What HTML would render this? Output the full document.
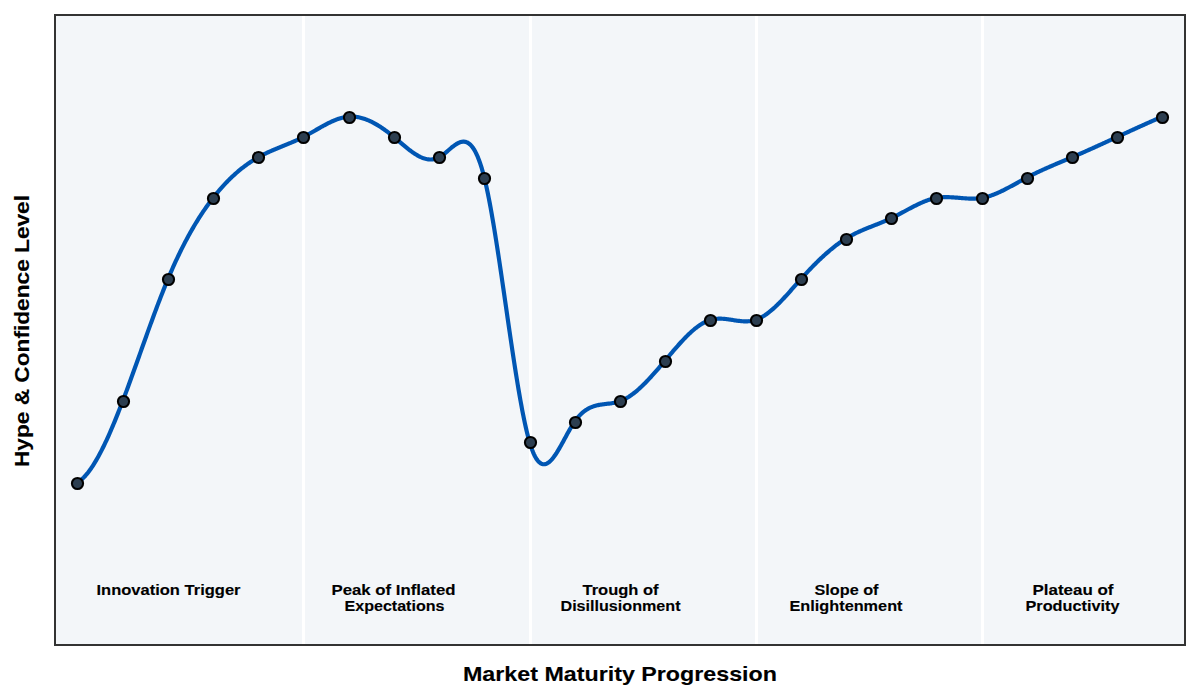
<!DOCTYPE html>
<html><head><meta charset="utf-8"><title>Hype Cycle</title><style>
html,body{margin:0;padding:0;background:#fff;width:1200px;height:700px;overflow:hidden;}
svg{display:block;}
text{font-family:"Liberation Sans", sans-serif;font-weight:bold;fill:#000;stroke:#000;stroke-width:0.12px;}
</style></head><body>
<svg width="1200" height="700" viewBox="0 0 1200 700">
<rect x="0" y="0" width="1200" height="700" fill="#ffffff"/>
<rect x="55" y="15" width="1130" height="630" fill="#f3f6f9"/>
<g fill="#ffffff"><rect x="302" y="16" width="3" height="628"/><rect x="529" y="16" width="3" height="628"/><rect x="755" y="16" width="3" height="628"/><rect x="981" y="16" width="3" height="628"/></g>
<path d="M77.44,482.54 L78.34,481.98 L79.24,481.35 L80.15,480.67 L81.05,479.94 L81.96,479.15 L82.86,478.31 L83.77,477.42 L84.67,476.47 L85.57,475.48 L86.48,474.43 L87.38,473.34 L88.29,472.20 L89.19,471.01 L90.09,469.77 L91.00,468.49 L91.90,467.16 L92.81,465.79 L93.71,464.38 L94.62,462.92 L95.52,461.43 L96.42,459.89 L97.33,458.31 L98.23,456.69 L99.14,455.04 L100.04,453.35 L100.94,451.62 L101.85,449.85 L102.75,448.05 L103.66,446.22 L104.56,444.35 L105.46,442.45 L106.37,440.52 L107.27,438.55 L108.18,436.56 L109.08,434.54 L109.99,432.48 L110.89,430.41 L111.79,428.30 L112.70,426.17 L113.60,424.01 L114.51,421.83 L115.41,419.62 L116.31,417.40 L117.22,415.15 L118.12,412.88 L119.03,410.58 L119.93,408.27 L120.84,405.94 L121.74,403.60 L122.64,401.23 L123.55,398.85 L124.45,396.45 L125.36,394.04 L126.26,391.62 L127.16,389.18 L128.07,386.73 L128.97,384.27 L129.88,381.80 L130.78,379.32 L131.68,376.83 L132.59,374.33 L133.49,371.82 L134.40,369.31 L135.30,366.79 L136.21,364.27 L137.11,361.74 L138.01,359.21 L138.92,356.68 L139.82,354.14 L140.73,351.61 L141.63,349.07 L142.53,346.54 L143.44,344.01 L144.34,341.48 L145.25,338.95 L146.15,336.43 L147.05,333.91 L147.96,331.40 L148.86,328.90 L149.77,326.40 L150.67,323.91 L151.58,321.43 L152.48,318.96 L153.38,316.50 L154.29,314.05 L155.19,311.62 L156.10,309.19 L157.00,306.78 L157.90,304.39 L158.81,302.01 L159.71,299.65 L160.62,297.31 L161.52,294.98 L162.43,292.67 L163.33,290.38 L164.23,288.11 L165.14,285.87 L166.04,283.64 L166.95,281.44 L167.85,279.26 L168.75,277.11 L169.66,274.98 L170.56,272.88 L171.47,270.80 L172.37,268.74 L173.27,266.70 L174.18,264.69 L175.08,262.71 L175.99,260.74 L176.89,258.80 L177.80,256.89 L178.70,254.99 L179.60,253.12 L180.51,251.27 L181.41,249.44 L182.32,247.63 L183.22,245.85 L184.12,244.08 L185.03,242.34 L185.93,240.62 L186.84,238.92 L187.74,237.24 L188.65,235.58 L189.55,233.95 L190.45,232.33 L191.36,230.73 L192.26,229.15 L193.17,227.59 L194.07,226.06 L194.97,224.54 L195.88,223.04 L196.78,221.56 L197.69,220.09 L198.59,218.65 L199.49,217.23 L200.40,215.82 L201.30,214.43 L202.21,213.06 L203.11,211.71 L204.02,210.37 L204.92,209.06 L205.82,207.76 L206.73,206.47 L207.63,205.21 L208.54,203.96 L209.44,202.72 L210.34,201.51 L211.25,200.31 L212.15,199.12 L213.06,197.95 L213.96,196.80 L214.86,195.66 L215.77,194.54 L216.67,193.43 L217.58,192.34 L218.48,191.26 L219.39,190.20 L220.29,189.15 L221.19,188.12 L222.10,187.11 L223.00,186.10 L223.91,185.12 L224.81,184.14 L225.71,183.18 L226.62,182.24 L227.52,181.31 L228.43,180.39 L229.33,179.49 L230.24,178.60 L231.14,177.72 L232.04,176.86 L232.95,176.01 L233.85,175.17 L234.76,174.35 L235.66,173.54 L236.56,172.75 L237.47,171.96 L238.37,171.19 L239.28,170.44 L240.18,169.69 L241.08,168.96 L241.99,168.24 L242.89,167.53 L243.80,166.84 L244.70,166.16 L245.61,165.48 L246.51,164.83 L247.41,164.18 L248.32,163.54 L249.22,162.92 L250.13,162.31 L251.03,161.71 L251.93,161.12 L252.84,160.54 L253.74,159.97 L254.65,159.41 L255.55,158.87 L256.46,158.33 L257.36,157.81 L258.26,157.30 L259.17,156.79 L260.07,156.30 L260.98,155.82 L261.88,155.34 L262.78,154.88 L263.69,154.42 L264.59,153.97 L265.50,153.53 L266.40,153.10 L267.30,152.67 L268.21,152.25 L269.11,151.84 L270.02,151.43 L270.92,151.03 L271.83,150.63 L272.73,150.24 L273.63,149.85 L274.54,149.47 L275.44,149.09 L276.35,148.71 L277.25,148.34 L278.15,147.97 L279.06,147.60 L279.96,147.23 L280.87,146.86 L281.77,146.50 L282.67,146.13 L283.58,145.76 L284.48,145.40 L285.39,145.03 L286.29,144.66 L287.20,144.30 L288.10,143.92 L289.00,143.55 L289.91,143.18 L290.81,142.80 L291.72,142.42 L292.62,142.03 L293.52,141.64 L294.43,141.25 L295.33,140.85 L296.24,140.44 L297.14,140.03 L298.05,139.61 L298.95,139.19 L299.85,138.76 L300.76,138.33 L301.66,137.88 L302.57,137.43 L303.47,136.97 L304.37,136.50 L305.28,136.02 L306.18,135.54 L307.09,135.04 L307.99,134.55 L308.89,134.04 L309.80,133.54 L310.70,133.02 L311.61,132.51 L312.51,131.99 L313.42,131.47 L314.32,130.95 L315.22,130.43 L316.13,129.90 L317.03,129.38 L317.94,128.86 L318.84,128.34 L319.74,127.83 L320.65,127.31 L321.55,126.80 L322.46,126.30 L323.36,125.80 L324.27,125.31 L325.17,124.82 L326.07,124.34 L326.98,123.87 L327.88,123.40 L328.79,122.95 L329.69,122.51 L330.59,122.07 L331.50,121.65 L332.40,121.24 L333.31,120.84 L334.21,120.46 L335.11,120.09 L336.02,119.73 L336.92,119.39 L337.83,119.06 L338.73,118.75 L339.64,118.46 L340.54,118.19 L341.44,117.93 L342.35,117.70 L343.25,117.48 L344.16,117.29 L345.06,117.11 L345.96,116.96 L346.87,116.83 L347.77,116.72 L348.68,116.64 L349.58,116.58 L350.48,116.55 L351.39,116.54 L352.29,116.55 L353.20,116.59 L354.10,116.65 L355.01,116.73 L355.91,116.83 L356.81,116.96 L357.72,117.10 L358.62,117.27 L359.53,117.46 L360.43,117.67 L361.33,117.90 L362.24,118.15 L363.14,118.42 L364.05,118.71 L364.95,119.02 L365.86,119.35 L366.76,119.70 L367.66,120.06 L368.57,120.44 L369.47,120.84 L370.38,121.25 L371.28,121.69 L372.18,122.14 L373.09,122.60 L373.99,123.08 L374.90,123.58 L375.80,124.09 L376.70,124.61 L377.61,125.15 L378.51,125.71 L379.42,126.27 L380.32,126.86 L381.23,127.45 L382.13,128.06 L383.03,128.68 L383.94,129.31 L384.84,129.95 L385.75,130.61 L386.65,131.27 L387.55,131.95 L388.46,132.64 L389.36,133.34 L390.27,134.04 L391.17,134.76 L392.08,135.49 L392.98,136.22 L393.88,136.97 L394.79,137.72 L395.69,138.48 L396.60,139.24 L397.50,140.01 L398.40,140.78 L399.31,141.56 L400.21,142.33 L401.12,143.10 L402.02,143.87 L402.92,144.64 L403.83,145.40 L404.73,146.16 L405.64,146.91 L406.54,147.65 L407.45,148.38 L408.35,149.09 L409.25,149.80 L410.16,150.49 L411.06,151.16 L411.97,151.82 L412.87,152.46 L413.77,153.09 L414.68,153.69 L415.58,154.26 L416.49,154.82 L417.39,155.35 L418.29,155.86 L419.20,156.33 L420.10,156.78 L421.01,157.20 L421.91,157.59 L422.82,157.95 L423.72,158.27 L424.62,158.55 L425.53,158.80 L426.43,159.02 L427.34,159.19 L428.24,159.32 L429.14,159.42 L430.05,159.46 L430.95,159.47 L431.86,159.43 L432.76,159.34 L433.67,159.20 L434.57,159.02 L435.47,158.78 L436.38,158.49 L437.28,158.15 L438.19,157.75 L439.09,157.30 L439.99,156.79 L440.90,156.22 L441.80,155.62 L442.71,154.97 L443.61,154.28 L444.51,153.57 L445.42,152.83 L446.32,152.08 L447.23,151.31 L448.13,150.53 L449.04,149.76 L449.94,148.98 L450.84,148.22 L451.75,147.47 L452.65,146.74 L453.56,146.04 L454.46,145.37 L455.36,144.74 L456.27,144.15 L457.17,143.61 L458.08,143.12 L458.98,142.69 L459.89,142.33 L460.79,142.04 L461.69,141.82 L462.60,141.69 L463.50,141.65 L464.41,141.69 L465.31,141.84 L466.21,142.09 L467.12,142.45 L468.02,142.93 L468.93,143.53 L469.83,144.25 L470.73,145.11 L471.64,146.10 L472.54,147.24 L473.45,148.53 L474.35,149.97 L475.26,151.57 L476.16,153.34 L477.06,155.28 L477.97,157.39 L478.87,159.69 L479.78,162.18 L480.68,164.86 L481.58,167.74 L482.49,170.82 L483.39,174.11 L484.30,177.62 L485.20,181.35 L486.10,185.29 L487.01,189.44 L487.91,193.78 L488.82,198.30 L489.72,202.99 L490.63,207.86 L491.53,212.88 L492.43,218.04 L493.34,223.35 L494.24,228.78 L495.15,234.33 L496.05,239.99 L496.95,245.76 L497.86,251.61 L498.76,257.55 L499.67,263.56 L500.57,269.63 L501.48,275.76 L502.38,281.93 L503.28,288.13 L504.19,294.37 L505.09,300.62 L506.00,306.88 L506.90,313.14 L507.80,319.38 L508.71,325.61 L509.61,331.80 L510.52,337.96 L511.42,344.07 L512.32,350.13 L513.23,356.11 L514.13,362.02 L515.04,367.85 L515.94,373.58 L516.85,379.21 L517.75,384.72 L518.65,390.11 L519.56,395.37 L520.46,400.49 L521.37,405.46 L522.27,410.27 L523.17,414.91 L524.08,419.37 L524.98,423.65 L525.89,427.73 L526.79,431.60 L527.70,435.26 L528.60,438.69 L529.50,441.89 L530.41,444.85 L531.31,447.57 L532.22,450.06 L533.12,452.32 L534.02,454.37 L534.93,456.21 L535.83,457.84 L536.74,459.27 L537.64,460.51 L538.54,461.56 L539.45,462.43 L540.35,463.12 L541.26,463.65 L542.16,464.01 L543.07,464.22 L543.97,464.28 L544.87,464.19 L545.78,463.97 L546.68,463.61 L547.59,463.14 L548.49,462.54 L549.39,461.83 L550.30,461.01 L551.20,460.10 L552.11,459.09 L553.01,457.99 L553.91,456.81 L554.82,455.55 L555.72,454.23 L556.63,452.85 L557.53,451.40 L558.44,449.91 L559.34,448.38 L560.24,446.80 L561.15,445.20 L562.05,443.57 L562.96,441.92 L563.86,440.25 L564.76,438.58 L565.67,436.91 L566.57,435.25 L567.48,433.60 L568.38,431.96 L569.29,430.35 L570.19,428.77 L571.09,427.23 L572.00,425.73 L572.90,424.28 L573.81,422.89 L574.71,421.56 L575.61,420.29 L576.52,419.09 L577.42,417.96 L578.33,416.89 L579.23,415.87 L580.13,414.92 L581.04,414.02 L581.94,413.18 L582.85,412.39 L583.75,411.65 L584.66,410.95 L585.56,410.31 L586.46,409.71 L587.37,409.15 L588.27,408.63 L589.18,408.16 L590.08,407.72 L590.98,407.31 L591.89,406.94 L592.79,406.60 L593.70,406.28 L594.60,406.00 L595.51,405.74 L596.41,405.50 L597.31,405.29 L598.22,405.09 L599.12,404.92 L600.03,404.75 L600.93,404.61 L601.83,404.47 L602.74,404.34 L603.64,404.22 L604.55,404.11 L605.45,404.00 L606.35,403.90 L607.26,403.79 L608.16,403.68 L609.07,403.57 L609.97,403.45 L610.88,403.33 L611.78,403.19 L612.68,403.05 L613.59,402.89 L614.49,402.71 L615.40,402.52 L616.30,402.31 L617.20,402.08 L618.11,401.82 L619.01,401.54 L619.92,401.23 L620.82,400.89 L621.72,400.53 L622.63,400.14 L623.53,399.72 L624.44,399.27 L625.34,398.80 L626.25,398.30 L627.15,397.78 L628.05,397.23 L628.96,396.66 L629.86,396.06 L630.77,395.44 L631.67,394.80 L632.57,394.14 L633.48,393.46 L634.38,392.76 L635.29,392.03 L636.19,391.29 L637.10,390.53 L638.00,389.75 L638.90,388.95 L639.81,388.13 L640.71,387.30 L641.62,386.45 L642.52,385.59 L643.42,384.71 L644.33,383.82 L645.23,382.91 L646.14,381.99 L647.04,381.06 L647.94,380.11 L648.85,379.16 L649.75,378.19 L650.66,377.21 L651.56,376.22 L652.47,375.22 L653.37,374.22 L654.27,373.20 L655.18,372.18 L656.08,371.15 L656.99,370.11 L657.89,369.07 L658.79,368.02 L659.70,366.97 L660.60,365.91 L661.51,364.85 L662.41,363.78 L663.32,362.72 L664.22,361.65 L665.12,360.58 L666.03,359.50 L666.93,358.43 L667.84,357.36 L668.74,356.29 L669.64,355.22 L670.55,354.15 L671.45,353.09 L672.36,352.03 L673.26,350.97 L674.16,349.92 L675.07,348.87 L675.97,347.83 L676.88,346.80 L677.78,345.78 L678.69,344.76 L679.59,343.76 L680.49,342.76 L681.40,341.78 L682.30,340.80 L683.21,339.84 L684.11,338.89 L685.01,337.95 L685.92,337.03 L686.82,336.12 L687.73,335.23 L688.63,334.35 L689.53,333.50 L690.44,332.65 L691.34,331.83 L692.25,331.02 L693.15,330.24 L694.06,329.47 L694.96,328.73 L695.86,328.00 L696.77,327.30 L697.67,326.63 L698.58,325.97 L699.48,325.34 L700.38,324.74 L701.29,324.16 L702.19,323.60 L703.10,323.08 L704.00,322.58 L704.91,322.11 L705.81,321.67 L706.71,321.25 L707.62,320.87 L708.52,320.52 L709.43,320.21 L710.33,319.92 L711.23,319.67 L712.14,319.45 L713.04,319.25 L713.95,319.09 L714.85,318.96 L715.75,318.85 L716.66,318.77 L717.56,318.71 L718.47,318.68 L719.37,318.66 L720.28,318.67 L721.18,318.69 L722.08,318.73 L722.99,318.78 L723.89,318.86 L724.80,318.94 L725.70,319.03 L726.60,319.14 L727.51,319.25 L728.41,319.37 L729.32,319.50 L730.22,319.64 L731.13,319.77 L732.03,319.91 L732.93,320.05 L733.84,320.19 L734.74,320.33 L735.65,320.46 L736.55,320.59 L737.45,320.72 L738.36,320.84 L739.26,320.94 L740.17,321.04 L741.07,321.13 L741.97,321.21 L742.88,321.27 L743.78,321.31 L744.69,321.34 L745.59,321.35 L746.50,321.35 L747.40,321.32 L748.30,321.27 L749.21,321.20 L750.11,321.10 L751.02,320.97 L751.92,320.82 L752.82,320.64 L753.73,320.43 L754.63,320.19 L755.54,319.92 L756.44,319.61 L757.34,319.27 L758.25,318.90 L759.15,318.49 L760.06,318.06 L760.96,317.59 L761.87,317.10 L762.77,316.57 L763.67,316.02 L764.58,315.45 L765.48,314.84 L766.39,314.21 L767.29,313.56 L768.19,312.88 L769.10,312.18 L770.00,311.46 L770.91,310.71 L771.81,309.95 L772.72,309.16 L773.62,308.36 L774.52,307.53 L775.43,306.70 L776.33,305.84 L777.24,304.97 L778.14,304.08 L779.04,303.18 L779.95,302.26 L780.85,301.33 L781.76,300.39 L782.66,299.44 L783.56,298.48 L784.47,297.51 L785.37,296.53 L786.28,295.54 L787.18,294.54 L788.09,293.54 L788.99,292.53 L789.89,291.52 L790.80,290.50 L791.70,289.48 L792.61,288.46 L793.51,287.43 L794.41,286.41 L795.32,285.38 L796.22,284.35 L797.13,283.33 L798.03,282.31 L798.94,281.29 L799.84,280.27 L800.74,279.26 L801.65,278.26 L802.55,277.26 L803.46,276.26 L804.36,275.27 L805.26,274.29 L806.17,273.31 L807.07,272.34 L807.98,271.38 L808.88,270.42 L809.78,269.47 L810.69,268.53 L811.59,267.59 L812.50,266.66 L813.40,265.73 L814.31,264.82 L815.21,263.91 L816.11,263.01 L817.02,262.12 L817.92,261.23 L818.83,260.36 L819.73,259.49 L820.63,258.63 L821.54,257.78 L822.44,256.94 L823.35,256.10 L824.25,255.28 L825.15,254.46 L826.06,253.66 L826.96,252.86 L827.87,252.07 L828.77,251.30 L829.68,250.53 L830.58,249.77 L831.48,249.03 L832.39,248.29 L833.29,247.57 L834.20,246.85 L835.10,246.15 L836.00,245.46 L836.91,244.77 L837.81,244.10 L838.72,243.45 L839.62,242.80 L840.53,242.16 L841.43,241.54 L842.33,240.93 L843.24,240.33 L844.14,239.74 L845.05,239.17 L845.95,238.61 L846.85,238.06 L847.76,237.52 L848.66,237.00 L849.57,236.49 L850.47,235.98 L851.37,235.49 L852.28,235.01 L853.18,234.54 L854.09,234.08 L854.99,233.63 L855.90,233.19 L856.80,232.75 L857.70,232.33 L858.61,231.91 L859.51,231.50 L860.42,231.09 L861.32,230.69 L862.22,230.30 L863.13,229.91 L864.03,229.52 L864.94,229.15 L865.84,228.77 L866.75,228.40 L867.65,228.03 L868.55,227.67 L869.46,227.31 L870.36,226.95 L871.27,226.59 L872.17,226.23 L873.07,225.87 L873.98,225.52 L874.88,225.16 L875.79,224.81 L876.69,224.45 L877.59,224.09 L878.50,223.73 L879.40,223.37 L880.31,223.00 L881.21,222.63 L882.12,222.26 L883.02,221.89 L883.92,221.51 L884.83,221.13 L885.73,220.74 L886.64,220.34 L887.54,219.94 L888.44,219.54 L889.35,219.13 L890.25,218.71 L891.16,218.28 L892.06,217.84 L892.96,217.40 L893.87,216.95 L894.77,216.50 L895.68,216.04 L896.58,215.57 L897.49,215.10 L898.39,214.63 L899.29,214.15 L900.20,213.67 L901.10,213.18 L902.01,212.69 L902.91,212.21 L903.81,211.72 L904.72,211.23 L905.62,210.74 L906.53,210.25 L907.43,209.76 L908.34,209.28 L909.24,208.79 L910.14,208.31 L911.05,207.84 L911.95,207.36 L912.86,206.89 L913.76,206.43 L914.66,205.97 L915.57,205.52 L916.47,205.07 L917.38,204.63 L918.28,204.20 L919.18,203.77 L920.09,203.36 L920.99,202.95 L921.90,202.55 L922.80,202.17 L923.71,201.79 L924.61,201.43 L925.51,201.07 L926.42,200.73 L927.32,200.41 L928.23,200.09 L929.13,199.79 L930.03,199.50 L930.94,199.23 L931.84,198.98 L932.75,198.74 L933.65,198.52 L934.56,198.31 L935.46,198.12 L936.36,197.95 L937.27,197.80 L938.17,197.67 L939.08,197.55 L939.98,197.45 L940.88,197.37 L941.79,197.30 L942.69,197.24 L943.60,197.20 L944.50,197.17 L945.40,197.16 L946.31,197.15 L947.21,197.16 L948.12,197.17 L949.02,197.20 L949.93,197.23 L950.83,197.27 L951.73,197.32 L952.64,197.37 L953.54,197.43 L954.45,197.49 L955.35,197.56 L956.25,197.63 L957.16,197.70 L958.06,197.78 L958.97,197.86 L959.87,197.93 L960.77,198.01 L961.68,198.08 L962.58,198.16 L963.49,198.23 L964.39,198.29 L965.30,198.36 L966.20,198.42 L967.10,198.47 L968.01,198.51 L968.91,198.55 L969.82,198.59 L970.72,198.61 L971.62,198.62 L972.53,198.63 L973.43,198.62 L974.34,198.60 L975.24,198.57 L976.15,198.53 L977.05,198.47 L977.95,198.40 L978.86,198.31 L979.76,198.21 L980.67,198.09 L981.57,197.95 L982.47,197.80 L983.38,197.63 L984.28,197.44 L985.19,197.23 L986.09,197.01 L986.99,196.77 L987.90,196.52 L988.80,196.25 L989.71,195.97 L990.61,195.67 L991.52,195.36 L992.42,195.04 L993.32,194.70 L994.23,194.35 L995.13,193.99 L996.04,193.62 L996.94,193.24 L997.84,192.85 L998.75,192.45 L999.65,192.04 L1000.56,191.62 L1001.46,191.19 L1002.37,190.75 L1003.27,190.31 L1004.17,189.86 L1005.08,189.40 L1005.98,188.94 L1006.89,188.47 L1007.79,187.99 L1008.69,187.51 L1009.60,187.03 L1010.50,186.54 L1011.41,186.05 L1012.31,185.56 L1013.21,185.06 L1014.12,184.56 L1015.02,184.06 L1015.93,183.56 L1016.83,183.06 L1017.74,182.56 L1018.64,182.05 L1019.54,181.55 L1020.45,181.05 L1021.35,180.55 L1022.26,180.06 L1023.16,179.56 L1024.06,179.07 L1024.97,178.59 L1025.87,178.10 L1026.78,177.62 L1027.68,177.15 L1028.58,176.68 L1029.49,176.21 L1030.39,175.75 L1031.30,175.30 L1032.20,174.85 L1033.11,174.40 L1034.01,173.95 L1034.91,173.51 L1035.82,173.08 L1036.72,172.64 L1037.63,172.21 L1038.53,171.79 L1039.43,171.37 L1040.34,170.95 L1041.24,170.53 L1042.15,170.12 L1043.05,169.70 L1043.96,169.30 L1044.86,168.89 L1045.76,168.49 L1046.67,168.09 L1047.57,167.69 L1048.48,167.29 L1049.38,166.89 L1050.28,166.50 L1051.19,166.11 L1052.09,165.72 L1053.00,165.33 L1053.90,164.94 L1054.80,164.56 L1055.71,164.17 L1056.61,163.79 L1057.52,163.41 L1058.42,163.03 L1059.33,162.64 L1060.23,162.26 L1061.13,161.88 L1062.04,161.50 L1062.94,161.12 L1063.85,160.74 L1064.75,160.36 L1065.65,159.98 L1066.56,159.60 L1067.46,159.22 L1068.37,158.83 L1069.27,158.45 L1070.18,158.07 L1071.08,157.68 L1071.98,157.30 L1072.89,156.91 L1073.79,156.52 L1074.70,156.13 L1075.60,155.74 L1076.50,155.35 L1077.41,154.96 L1078.31,154.56 L1079.22,154.17 L1080.12,153.77 L1081.02,153.37 L1081.93,152.98 L1082.83,152.58 L1083.74,152.18 L1084.64,151.78 L1085.55,151.38 L1086.45,150.97 L1087.35,150.57 L1088.26,150.17 L1089.16,149.76 L1090.07,149.36 L1090.97,148.95 L1091.87,148.54 L1092.78,148.14 L1093.68,147.73 L1094.59,147.32 L1095.49,146.91 L1096.39,146.50 L1097.30,146.09 L1098.20,145.68 L1099.11,145.27 L1100.01,144.86 L1100.92,144.44 L1101.82,144.03 L1102.72,143.62 L1103.63,143.20 L1104.53,142.79 L1105.44,142.37 L1106.34,141.96 L1107.24,141.54 L1108.15,141.13 L1109.05,140.71 L1109.96,140.30 L1110.86,139.88 L1111.77,139.47 L1112.67,139.05 L1113.57,138.63 L1114.48,138.22 L1115.38,137.80 L1116.29,137.38 L1117.19,136.97 L1118.09,136.55 L1119.00,136.13 L1119.90,135.72 L1120.81,135.30 L1121.71,134.89 L1122.61,134.47 L1123.52,134.05 L1124.42,133.64 L1125.33,133.22 L1126.23,132.81 L1127.14,132.39 L1128.04,131.98 L1128.94,131.56 L1129.85,131.15 L1130.75,130.73 L1131.66,130.32 L1132.56,129.91 L1133.46,129.49 L1134.37,129.08 L1135.27,128.67 L1136.18,128.26 L1137.08,127.85 L1137.99,127.43 L1138.89,127.02 L1139.79,126.62 L1140.70,126.21 L1141.60,125.80 L1142.51,125.39 L1143.41,124.98 L1144.31,124.58 L1145.22,124.17 L1146.12,123.77 L1147.03,123.36 L1147.93,122.96 L1148.83,122.56 L1149.74,122.16 L1150.64,121.76 L1151.55,121.36 L1152.45,120.96 L1153.36,120.56 L1154.26,120.16 L1155.16,119.77 L1156.07,119.37 L1156.97,118.98 L1157.88,118.59 L1158.78,118.20 L1159.68,117.80 L1160.59,117.42 L1161.49,117.03 L1162.40,116.64" fill="none" stroke="#0056b3" stroke-width="4.167" stroke-linejoin="round" stroke-linecap="butt"/>
<g fill="#2c3e50" stroke="#000000" stroke-width="2.083"><circle cx="77.5" cy="483.5" r="5.556"/><circle cx="123.5" cy="401.5" r="5.556"/><circle cx="168.5" cy="279.5" r="5.556"/><circle cx="213.5" cy="198.5" r="5.556"/><circle cx="258.5" cy="157.5" r="5.556"/><circle cx="303.5" cy="137.5" r="5.556"/><circle cx="349.5" cy="117.5" r="5.556"/><circle cx="394.5" cy="137.5" r="5.556"/><circle cx="439.5" cy="157.5" r="5.556"/><circle cx="484.5" cy="178.5" r="5.556"/><circle cx="530.5" cy="442.5" r="5.556"/><circle cx="575.5" cy="422.5" r="5.556"/><circle cx="620.5" cy="401.5" r="5.556"/><circle cx="665.5" cy="361.5" r="5.556"/><circle cx="710.5" cy="320.5" r="5.556"/><circle cx="756.5" cy="320.5" r="5.556"/><circle cx="801.5" cy="279.5" r="5.556"/><circle cx="846.5" cy="239.5" r="5.556"/><circle cx="891.5" cy="218.5" r="5.556"/><circle cx="936.5" cy="198.5" r="5.556"/><circle cx="982.5" cy="198.5" r="5.556"/><circle cx="1027.5" cy="178.5" r="5.556"/><circle cx="1072.5" cy="157.5" r="5.556"/><circle cx="1117.5" cy="137.5" r="5.556"/><circle cx="1162.5" cy="117.5" r="5.556"/></g>
<g fill="#333333"><rect x="54" y="14" width="1132" height="2"/><rect x="54" y="644" width="1132" height="2"/><rect x="54" y="14" width="2" height="632"/><rect x="1184" y="14" width="2" height="632"/></g>
<g font-size="14.1" text-anchor="middle">
<text x="168.5" y="594.6" textLength="144" lengthAdjust="spacingAndGlyphs">Innovation Trigger</text>
<text x="393.5" y="594.6" textLength="124" lengthAdjust="spacingAndGlyphs">Peak of Inflated</text>
<text x="394.5" y="610.6" textLength="100" lengthAdjust="spacingAndGlyphs">Expectations</text>
<text x="620.5" y="594.6" textLength="76" lengthAdjust="spacingAndGlyphs">Trough of</text>
<text x="620.5" y="610.6" textLength="120" lengthAdjust="spacingAndGlyphs">Disillusionment</text>
<text x="846.5" y="594.6" textLength="64" lengthAdjust="spacingAndGlyphs">Slope of</text>
<text x="846.0" y="610.6" textLength="113" lengthAdjust="spacingAndGlyphs">Enlightenment</text>
<text x="1073.0" y="594.6" textLength="81" lengthAdjust="spacingAndGlyphs">Plateau of</text>
<text x="1072.5" y="610.6" textLength="94" lengthAdjust="spacingAndGlyphs">Productivity</text>
</g>
<text x="620.0" y="681" font-size="19.8" text-anchor="middle" textLength="314" lengthAdjust="spacingAndGlyphs">Market Maturity Progression</text>
<text transform="translate(29,331) rotate(-90)" x="0" y="0" font-size="19.8" text-anchor="middle" textLength="272" lengthAdjust="spacingAndGlyphs">Hype &amp; Confidence Level</text>
</svg>
</body></html>
